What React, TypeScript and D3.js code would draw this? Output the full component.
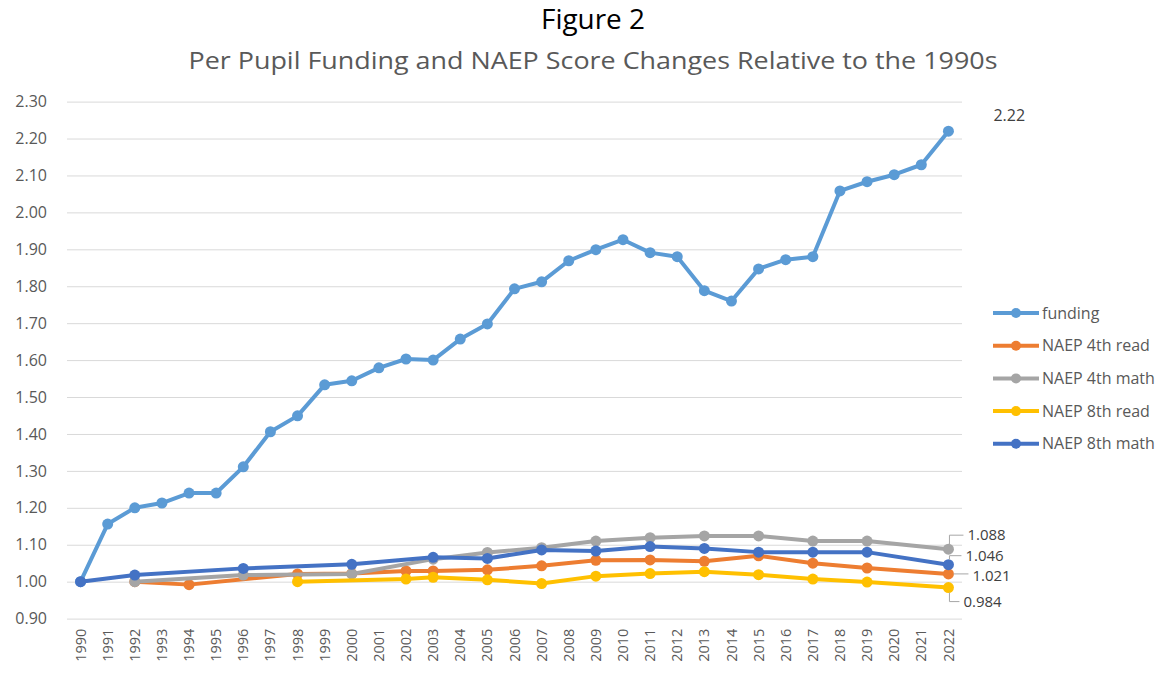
import React, { useEffect, useRef } from 'react';
import * as d3 from 'd3';

// categories on the x axis
const years = [
  1990, 1991, 1992, 1993, 1994, 1995, 1996, 1997, 1998, 1999, 2000,
  2001, 2002, 2003, 2004, 2005, 2006, 2007, 2008, 2009, 2010, 2011,
  2012, 2013, 2014, 2015, 2016, 2017, 2018, 2019, 2020, 2021, 2022
];

// funding: one value per year
const fundingValues = [
  1.0, 1.156, 1.2, 1.213, 1.24, 1.24, 1.311, 1.406, 1.449, 1.533, 1.544,
  1.579, 1.603, 1.6, 1.657, 1.698, 1.793, 1.812, 1.869, 1.899, 1.926, 1.891,
  1.88, 1.788, 1.76, 1.847, 1.872, 1.88, 2.058, 2.083, 2.102, 2.129, 2.22
];

// NAEP series only have values in test years
const read4Years = [1992, 1994, 1998, 2000, 2002, 2003, 2005, 2007, 2009, 2011, 2013, 2015, 2017, 2019, 2022];
const read4Values = [1.0, 0.992, 1.021, 1.022, 1.029, 1.029, 1.032, 1.043, 1.058, 1.059, 1.055, 1.07, 1.05, 1.037, 1.021];

const math4Years = [1992, 1996, 2000, 2003, 2005, 2007, 2009, 2011, 2013, 2015, 2017, 2019, 2022];
const math4Values = [1.0, 1.018, 1.021, 1.061, 1.079, 1.092, 1.11, 1.119, 1.124, 1.124, 1.11, 1.11, 1.088];

const read8Years = [1998, 2002, 2003, 2005, 2007, 2009, 2011, 2013, 2015, 2017, 2019, 2022];
const read8Values = [1.0, 1.007, 1.012, 1.005, 0.995, 1.015, 1.022, 1.027, 1.019, 1.007, 0.999, 0.984];

const math8Years = [1990, 1992, 1996, 2000, 2003, 2005, 2007, 2009, 2011, 2013, 2015, 2017, 2019, 2022];
const math8Values = [1.0, 1.018, 1.036, 1.047, 1.066, 1.063, 1.086, 1.083, 1.095, 1.09, 1.08, 1.08, 1.08, 1.046];

const yTicks = [0.9, 1.0, 1.1, 1.2, 1.3, 1.4, 1.5, 1.6, 1.7, 1.8, 1.9, 2.0, 2.1, 2.2, 2.3];

const seriesNames = ['funding', 'NAEP 4th read', 'NAEP 4th math', 'NAEP 8th read', 'NAEP 8th math'];
const seriesColors = ['#5b9bd5', '#ed7d31', '#a5a5a5', '#ffc000', '#4472c4'];

type Pt = { year: number; value: number };

function zip(ys: number[], vs: number[]): Pt[] {
  return ys.map((y, i) => ({ year: y, value: vs[i] }));
}

export default function App() {
  const ref = useRef<SVGSVGElement>(null);

  useEffect(() => {
    document.body.style.margin = '0';
    const svg = d3.select(ref.current);
    svg.selectAll('*').remove();

    const width = 1167, height = 677;
    const plot = { left: 67, right: 962, top: 101.6, bottom: 618.6 };
    const axisFont = '"Open Sans", "Noto Sans", sans-serif';
    const textColor = '#595959';

    const x = d3.scaleBand<number>().domain(years).range([plot.left, plot.right]);
    const xc = (yr: number) => (x(yr) as number) + x.bandwidth() / 2;
    const y = d3.scaleLinear().domain([0.9, 2.3]).range([plot.bottom, plot.top]);

    svg.attr('width', width).attr('height', height);

    // titles
    svg.append('text')
      .attr('x', 593).attr('y', 29)
      .attr('text-anchor', 'middle')
      .attr('font-family', axisFont)
      .attr('font-size', 27)
      .attr('fill', '#000')
      .attr('textLength', 104)
      .attr('lengthAdjust', 'spacingAndGlyphs')
      .text('Figure 2');

    svg.append('text')
      .attr('x', 593).attr('y', 69)
      .attr('text-anchor', 'middle')
      .attr('font-family', axisFont)
      .attr('font-size', 23)
      .attr('fill', textColor)
      .attr('textLength', 809)
      .attr('lengthAdjust', 'spacingAndGlyphs')
      .text('Per Pupil Funding and NAEP Score Changes Relative to the 1990s');

    // gridlines + y axis labels
    const yAxis = d3.axisLeft(y).tickValues(yTicks).tickFormat(d3.format('.2f'))
      .tickSize(-(plot.right - plot.left)).tickPadding(20);
    const gy = svg.append('g').attr('transform', 'translate(' + plot.left + ',0)').call(yAxis);
    gy.select('.domain').remove();
    gy.selectAll('.tick line').attr('stroke', '#d9d9d9').attr('stroke-width', 1);
    gy.selectAll('.tick text')
      .attr('font-family', axisFont).attr('font-size', 16).attr('fill', textColor);

    // x axis labels, rotated
    const xAxis = d3.axisBottom(x).tickSize(0).tickPadding(0);
    const gx = svg.append('g').attr('transform', 'translate(0,' + plot.bottom + ')').call(xAxis);
    gx.select('.domain').remove();
    gx.selectAll('.tick text')
      .attr('font-family', axisFont).attr('font-size', 14.5).attr('fill', textColor)
      .attr('transform', 'rotate(-90)')
      .attr('text-anchor', 'end')
      .attr('dy', '0.35em')
      .attr('x', -10).attr('y', 0);

    const series: Pt[][] = [
      zip(years, fundingValues),
      zip(read4Years, read4Values),
      zip(math4Years, math4Values),
      zip(read8Years, read8Values),
      zip(math8Years, math8Values)
    ];

    const line = d3.line<Pt>().x(d => xc(d.year)).y(d => y(d.value));

    series.forEach((data, i) => {
      const g = svg.append('g');
      g.append('path')
        .datum(data)
        .attr('fill', 'none')
        .attr('stroke', seriesColors[i])
        .attr('stroke-width', 4)
        .attr('stroke-linejoin', 'round')
        .attr('stroke-linecap', 'round')
        .attr('d', line);
      g.selectAll('circle').data(data).enter().append('circle')
        .attr('cx', d => xc(d.year))
        .attr('cy', d => y(d.value))
        .attr('r', 5.5)
        .attr('fill', seriesColors[i]);
    });

    // end-of-line value labels with leader lines
    const labelFmt = (v: number, i: number) => (i === 0 ? d3.format('.2f')(v) : d3.format('.3f')(v));
    // [series index, label dx, label dy]
    const labelShift: [number, number, number][] = [
      [0, 45, -16], [2, 19, -14], [4, 17, -9], [1, 24, 2], [3, 15, 14]
    ];
    labelShift.forEach(([si, dx, dy]) => {
      const data = series[si];
      const last = data[data.length - 1];
      const px = xc(last.year), py = y(last.value);
      if (si !== 0) {
        const lx = px + dx - 4;
        let path;
        if (Math.abs(dy) < 3) path = `M${px + 5},${py} L${lx},${py}`;
        else path = `M${px + 1},${py + (dy < 0 ? -5 : 5)} L${px + 1},${py + dy} L${lx},${py + dy}`;
        svg.append('path')
          .attr('d', path)
          .attr('fill', 'none')
          .attr('stroke', '#a6a6a6')
          .attr('stroke-width', 1);
      }
      svg.append('text')
        .attr('x', px + dx)
        .attr('y', py + dy)
        .attr('dy', '0.35em')
        .attr('font-family', axisFont)
        .attr('font-size', si === 0 ? 16 : 15)
        .attr('fill', '#404040')
        .text(labelFmt(last.value, si));
    });

    // legend
    const legend = svg.append('g').attr('transform', 'translate(993,313)');
    seriesNames.forEach((name, i) => {
      const row = legend.append('g').attr('transform', 'translate(0,' + i * 32.7 + ')');
      row.append('line')
        .attr('x1', 0).attr('x2', 46).attr('y1', 0).attr('y2', 0)
        .attr('stroke', seriesColors[i]).attr('stroke-width', 4);
      row.append('circle').attr('cx', 23).attr('cy', 0).attr('r', 5).attr('fill', seriesColors[i]);
      row.append('text')
        .attr('x', 49).attr('y', 0).attr('dy', '0.35em')
        .attr('font-family', axisFont).attr('font-size', 16)
        .attr('fill', textColor)
        .text(name);
    });
  }, []);

  return (
    <div>
      <svg ref={ref}></svg>
    </div>
  );
}
